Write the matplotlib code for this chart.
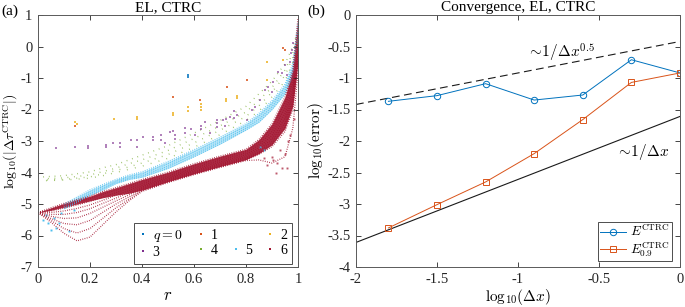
"""Two-panel figure: error scatter vs r (a) and convergence of the error (b)"""
import matplotlib
matplotlib.use('Agg')
import matplotlib.pyplot as plt
from matplotlib.lines import Line2D

plt.rcParams['font.family'] = 'Liberation Serif'
plt.rcParams['mathtext.fontset'] = 'cm'
plt.rcParams['axes.unicode_minus'] = False
plt.rcParams['font.size'] = 10

# MATLAB default colours, one per q
Q_COLORS = ['#0072BD', '#D95319', '#EDB120', '#7E2F8E', '#77AC30', '#4DBEEE', '#A2142F']

## Panel (a) data
# q = 6 (dense band drawn as strands through the fan)
R6 = [0, 0.05, 0.1, 0.15, 0.2, 0.25, 0.3, 0.35, 0.4, 0.5, 0.6, 0.7, 0.8, 0.85, 0.9, 0.95, 0.98, 1.0]
q6_strands = [
    [-5.27, -5.12, -4.98, -4.86, -4.75, -4.6, -4.48, -4.35, -4.22, -3.99, -3.72, -3.48, -3.26, -2.95, -2.45, -1.6, -0.75, 0.9],
    [-5.27, -5.17, -5.05, -4.94, -4.83, -4.69, -4.56, -4.43, -4.29, -4.05, -3.79, -3.55, -3.32, -3.04, -2.58, -1.78, -0.95, 0.6],
    [-5.27, -5.22, -5.13, -5.03, -4.92, -4.78, -4.64, -4.5, -4.35, -4.11, -3.85, -3.61, -3.38, -3.12, -2.7, -1.95, -1.15, 0.35],
    [-5.27, -5.27, -5.22, -5.14, -5.03, -4.88, -4.72, -4.57, -4.41, -4.16, -3.9, -3.67, -3.44, -3.2, -2.82, -2.12, -1.35, 0.1],
    [-5.27, -5.33, -5.33, -5.27, -5.15, -4.98, -4.81, -4.64, -4.46, -4.2, -3.95, -3.72, -3.5, -3.27, -2.93, -2.28, -1.5, -0.1],
    [-5.27, -5.39, -5.46, -5.44, -5.3, -5.1, -4.9, -4.71, -4.51, -4.24, -3.99, -3.76, -3.54, -3.33, -3.02, -2.42, -1.65, -0.25],
    [-5.27, -5.46, -5.62, -5.66, -5.52, -5.26, -5.0, -4.78, -4.55, -4.28, -4.03, -3.8, -3.58, -3.38, -3.1, -2.55, -1.8, -0.4],
    [-5.27, -5.52, -5.78, -5.92, -5.78, -5.45, -5.12, -4.85, -4.58, -4.3, -4.05, -3.82, -3.6, -3.42, -3.18, -2.7, -2.0, -0.55],
    [-5.27, -5.58, -5.93, -6.17, -6.05, -5.65, -5.25, -4.9, -4.6, -4.32, -4.07, -3.84, -3.62, -3.6, -3.7, -3.5, -2.6, -0.8],
]
# dense core of the q = 6 band on the same r grid: upper and lower edge
q6_core_top = [-5.27, -5.12, -4.98, -4.86, -4.75, -4.6, -4.48, -4.35, -4.22, -3.99, -3.72, -3.48, -3.26, -2.95, -2.45, -1.6, -0.75, 0.9]
q6_core_bot = [-5.27, -5.2, -5.1, -5.0, -4.9, -4.8, -4.72, -4.66, -4.56, -4.29, -4.04, -3.81, -3.59, -3.4, -3.12, -2.6, -1.9, -0.5]
q6_tail_r = [0.87, 0.88, 0.9, 0.905, 0.914, 0.92, 0.93, 0.94, 0.95, 0.956, 0.96, 0.97, 0.985]
q6_tail_y = [-3.55, -3.75, -3.5, -3.6, -4.03, -3.7, -3.3, -3.85, -3.4, -3.87, -3.0, -2.8, -2.3]

# q = 5
R5 = [0.1, 0.15, 0.2, 0.25, 0.3, 0.35, 0.4, 0.5, 0.6, 0.7, 0.8, 0.85, 0.9, 0.95, 0.98, 1.0]
q5_strands = [
    [-5.0, -4.78, -4.55, -4.38, -4.22, -4.08, -3.98, -3.65, -3.28, -2.88, -2.45, -2.12, -1.72, -1.2, -0.55, 0.75],
    [-5.05, -4.84, -4.61, -4.44, -4.26, -4.13, -4.04, -3.72, -3.35, -2.95, -2.52, -2.21, -1.81, -1.3, -0.68, 0.6],
    [-5.1, -4.9, -4.67, -4.5, -4.31, -4.18, -4.1, -3.8, -3.43, -3.03, -2.59, -2.31, -1.91, -1.4, -0.82, 0.45],
    [-5.15, -4.95, -4.72, -4.55, -4.35, -4.22, -4.15, -3.87, -3.5, -3.1, -2.65, -2.4, -2.0, -1.5, -0.95, 0.3],
]
q5_pts_r = [0.02, 0.03, 0.04, 0.05, 0.06, 0.07, 0.08, 0.09, 0.12, 0.14, 0.855, 0.87]
q5_pts_y = [-5.5, -5.35, -5.6, -5.83, -5.45, -5.75, -5.6, -5.3, -5.85, -5.2, -3.2, -3.3]

# q = 4
R4 = [0.02, 0.1, 0.2, 0.25, 0.3, 0.35, 0.4, 0.5, 0.6, 0.7, 0.8, 0.85, 0.9, 0.95, 0.98, 1.0]
q4_strands = [
    [-4.14, -4.1, -3.98, -3.85, -3.75, -3.6, -3.45, -3.15, -2.75, -2.35, -1.9, -1.5, -1.1, -0.55, 0.0, 0.5],
    [-4.2, -4.17, -4.08, -3.97, -3.86, -3.72, -3.6, -3.3, -2.92, -2.52, -2.08, -1.7, -1.3, -0.75, -0.2, 0.35],
    [-4.24, -4.22, -4.14, -4.04, -3.94, -3.82, -3.7, -3.43, -3.06, -2.66, -2.22, -1.88, -1.45, -0.92, -0.35, 0.22],
    [-4.26, -4.24, -4.18, -4.1, -4.0, -3.9, -3.8, -3.55, -3.2, -2.8, -2.35, -2.05, -1.6, -1.1, -0.5, 0.1],
]

# q = 3
q3_r = [0.070, 0.144, 0.192, 0.192, 0.263, 0.263, 0.288, 0.314, 0.314, 0.359, 0.382, 0.382, 0.404, 0.442,
        0.442, 0.474, 0.474, 0.487, 0.506, 0.519, 0.526, 0.526, 0.564, 0.564, 0.590, 0.603, 0.628, 0.628,
        0.641, 0.660, 0.690, 0.690, 0.690, 0.712, 0.718, 0.724, 0.737, 0.754, 0.754, 0.767, 0.803, 0.822,
        0.835, 0.854, 0.873, 0.886, 0.899, 0.905, 0.924, 0.937, 0.950, 0.956, 0.969, 0.972, 0.976, 0.982]
q3_y = [-3.21, -3.19, -3.16, -3.22, -3.13, -3.20, -3.05, -3.05, -3.18, -2.97, -2.97, -3.18, -2.86, -2.88,
        -2.97, -2.81, -2.97, -3.07, -2.70, -2.68, -2.81, -2.95, -2.60, -2.74, -2.63, -2.81, -2.52, -2.63,
        -2.39, -2.76, -2.33, -2.44, -2.54, -2.33, -2.52, -2.29, -2.23, -2.04, -2.27, -2.17, -2.33, -2.02,
        -1.91, -1.70, -1.38, -1.28, -1.43, -1.12, -0.80, -0.85, -0.59, -0.90, -0.48, -0.22, -0.11, 0.10]

# q = 2
q2_r = [0.144, 0.149, 0.292, 0.382, 0.382, 0.521, 0.521, 0.577, 0.577, 0.628, 0.628, 0.628, 0.724, 0.724,
        0.767, 0.767, 0.879, 0.879, 0.943]
q2_y = [-2.39, -2.47, -2.31, -2.23, -2.29, -2.10, -2.17, -1.91, -2.05, -1.84, -1.93, -2.03, -1.68, -1.73,
        -1.57, -1.63, -0.48, -1.06, -0.43]

# q = 1
q1_r = [0.144, 0.52, 0.623, 0.726, 0.803, 0.943, 0.95]
q1_y = [-2.52, -1.59, -1.70, -1.28, -1.06, -0.06, -0.11]

# q = 0
q0_r = [0.578, 0.578]
q0_y = [-0.92, -0.98]

## Panel (b) data
log_dx = [-1.8, -1.5, -1.2, -0.9, -0.6, -0.3, 0.0]
err_ctrc = [-1.37, -1.28, -1.09, -1.35, -1.27, -0.71, -0.92]
err_ctrc_09 = [-3.38, -3.01, -2.65, -2.20, -1.66, -1.07, -0.92]
ref_x = [-2.0, 0.0]
ref_half = [-1.42, -0.42]   # slope 0.5
ref_one = [-3.61, -1.61]    # slope 1

x_ticks_a = [0, 0.2, 0.4, 0.6, 0.8, 1]
x_labels_a = ['0', '0.2', '0.4', '0.6', '0.8', '1']
y_ticks_a = [1, 0, -1, -2, -3, -4, -5, -6, -7]
y_labels_a = ['1', '0', '-1', '-2', '-3', '-4', '-5', '-6', '-7']
x_ticks_b = [-2, -1.5, -1, -0.5, 0]
x_labels_b = ['-2', '-1.5', '-1', '-0.5', '0']
y_ticks_b = [0, -0.5, -1, -1.5, -2, -2.5, -3, -3.5, -4]
y_labels_b = ['0', '-0.5', '-1', '-1.5', '-2', '-2.5', '-3', '-3.5', '-4']


def style_axes(ax):
    """MATLAB-like box: inward ticks on all four sides"""
    ax.tick_params(direction='in', top=True, right=True, length=3.5, width=0.6,
                   colors='0.15', labelsize=10.5, pad=4)
    for sp in ax.spines.values():
        sp.set_color('0.35')
        sp.set_linewidth(0.7)


fig = plt.figure(figsize=(6.85, 3.07), dpi=100)
ax_a = fig.add_axes([38 / 685, 40 / 307, 260 / 685, 252 / 307])
ax_b = fig.add_axes([356 / 685, 40 / 307, 324 / 685, 252 / 307])

## Panel (a)
dots = (0, (0.6, 1.2))
for k, ys in enumerate(q4_strands):
    ax_a.plot(R4, ys, ls=(k * 1.3, (0.6, 3.5 + 0.6 * k)), lw=1.0, color=Q_COLORS[4], alpha=0.75)
ax_a.fill_between(R5, q5_strands[0], q5_strands[-1], color=Q_COLORS[5], alpha=0.4, lw=0)
for ys in q5_strands:
    ax_a.plot(R5, ys, ls=dots, lw=0.9, color=Q_COLORS[5])
ax_a.plot(q5_pts_r, q5_pts_y, 's', ms=1.4, mew=0, color=Q_COLORS[5])
ax_a.fill_between(R6, q6_core_top, q6_core_bot, color=Q_COLORS[6], alpha=0.9, lw=0)
for ys in q6_strands:
    ax_a.plot(R6, ys, ls=dots, lw=0.9, color=Q_COLORS[6])
ax_a.plot(q6_tail_r, q6_tail_y, 's', ms=1.4, mew=0, color=Q_COLORS[6], alpha=0.7)
ax_a.plot(q3_r, q3_y, 's', ms=1.6, mew=0, color=Q_COLORS[3], alpha=0.6)
ax_a.plot(q2_r, q2_y, 's', ms=1.6, mew=0, color=Q_COLORS[2], alpha=0.8)
ax_a.plot(q1_r, q1_y, 's', ms=1.6, mew=0, color=Q_COLORS[1], alpha=0.8)
ax_a.plot(q0_r, q0_y, 's', ms=1.6, mew=0, color=Q_COLORS[0], alpha=0.8)

ax_a.set_xlim(0, 1)
ax_a.set_ylim(-7, 1)
ax_a.set_xticks(x_ticks_a, x_labels_a)
ax_a.set_yticks(y_ticks_a, y_labels_a)
style_axes(ax_a)
ax_a.set_title('EL, CTRC', fontsize=11, pad=3)
ax_a.set_xlabel('$r$', fontsize=12, labelpad=2)
ax_a.set_ylabel(r'$\mathrm{log}_{10}(|\Delta\tau^{\rm CTRC}|)$', fontsize=10, labelpad=0)

q_handles = [Line2D([], [], ls='none', marker='s', ms=1.8, mew=0, color=c) for c in Q_COLORS]
blank = Line2D([], [], ls='none')
q_labels = ['$q = 0$', '1', '2', '3', '4', '5', '6']
order = [0, 3, 1, 4, None, 5, 2, 6]
leg_h = [blank if i is None else q_handles[i] for i in order]
leg_l = ['' if i is None else q_labels[i] for i in order]
leg_a = ax_a.legend(leg_h, leg_l, ncol=4, loc='lower right', bbox_to_anchor=(0.977, 0.012),
                    borderaxespad=0, fancybox=False, edgecolor='0.3', framealpha=1,
                    handlelength=0.6, handletextpad=0.4, columnspacing=1.0,
                    labelspacing=0.15, borderpad=0.35, fontsize=10)
leg_a.get_frame().set_linewidth(0.7)

## Panel (b)
ax_b.plot(ref_x, ref_half, '--', color='0.1', lw=0.8, dashes=(7, 4))
ax_b.plot(ref_x, ref_one, '-', color='0.1', lw=0.8)
ax_b.plot(log_dx, err_ctrc, '-o', color=Q_COLORS[0], lw=0.7, ms=4.6, mfc='none', mew=0.7,
          label=r'$E^{\rm CTRC}$')
ax_b.plot(log_dx, err_ctrc_09, '-s', color=Q_COLORS[1], lw=0.7, ms=4.6, mfc='none', mew=0.7,
          label=r'$E^{\rm CTRC}_{0.9}$')
ax_b.text(-0.945, -0.60, r'$\sim\!1/\Delta x^{0.5}$', fontsize=11, va='center', ha='left')
ax_b.text(-0.395, -2.17, r'$\sim\!1/\Delta x$', fontsize=11, va='center', ha='left')

ax_b.set_xlim(-2, 0)
ax_b.set_ylim(-4, 0)
ax_b.set_xticks(x_ticks_b, x_labels_b)
ax_b.set_yticks(y_ticks_b, y_labels_b)
style_axes(ax_b)
ax_b.set_title('Convergence, EL, CTRC', fontsize=11, pad=3)
ax_b.set_xlabel(r'$\mathrm{log}_{10}(\Delta x)$', fontsize=11, labelpad=1)
ax_b.set_ylabel(r'$\mathrm{log}_{10}(\rm error)$', fontsize=11, labelpad=1)
leg_b = ax_b.legend(loc='lower right', bbox_to_anchor=(0.975, 0.025), borderaxespad=0,
                    fancybox=False, edgecolor='0.3', framealpha=1, handlelength=2.0,
                    handletextpad=0.3, labelspacing=0.05, borderpad=0.15, fontsize=9.5)
leg_b.get_frame().set_linewidth(0.7)

fig.text(0.002, 1 - 11 / 307, '(a)', fontsize=11, va='center', ha='left')
fig.text(307 / 685, 1 - 11 / 307, '(b)', fontsize=11, va='center', ha='left')

fig.savefig('out.png', dpi=100)
